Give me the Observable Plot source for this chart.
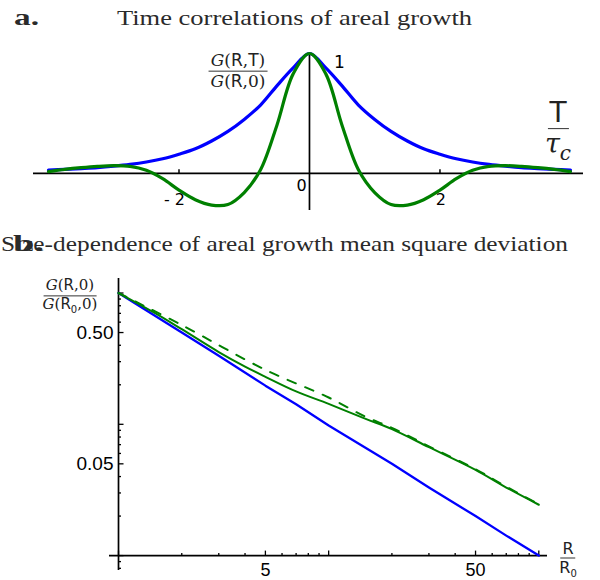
<!DOCTYPE html>
<html><head><meta charset="utf-8">
<script src="https://cdn.jsdelivr.net/npm/d3@7"></script>
<script src="https://cdn.jsdelivr.net/npm/@observablehq/plot@0.6"></script>
<style>
body{margin:0;background:#fff;}
#wrap{position:relative;width:600px;height:580px;overflow:hidden;background:#fff;}
#wrap svg{position:absolute;left:0;}
.abs{position:absolute;white-space:nowrap;}
.frac{display:flex;flex-direction:column;align-items:center;transform:translate(-50%,-50%);color:#222;line-height:1.05;}
.frac .num{border-bottom:1px solid #333;padding:0 2px 1px 2px;}
.frac .den{padding:1px 2px 0 2px;}
.cm{font-family:"DejaVu Serif",serif;}
.cmi{font-family:"DejaVu Serif",serif;font-style:italic;}
.ss{font-family:"DejaVu Sans",sans-serif;}
</style></head>
<body>
<div id="wrap"></div>
<script>
// ---------- Panel a: time correlations ----------
const tValues = [-4,-3.75,-3.5,-3.25,-3,-2.75,-2.5,-2.25,-2,-1.75,-1.5,-1.25,-1,-0.75,-0.5,-0.25,0,0.25,0.5,0.75,1,1.25,1.5,1.75,2,2.25,2.5,2.75,3,3.25,3.5,3.75,4];
const blueA = [0.027,0.033,0.040,0.048,0.060,0.075,0.095,0.122,0.16,0.205,0.27,0.35,0.45,0.57,0.73,0.88,1,0.88,0.73,0.57,0.45,0.35,0.27,0.205,0.16,0.122,0.095,0.075,0.060,0.048,0.040,0.033,0.027];
const greenA = [0.015,0.033,0.047,0.058,0.064,0.058,0.025,-0.045,-0.14,-0.22,-0.265,-0.26,-0.16,0.03,0.40,0.83,1,0.83,0.40,0.03,-0.16,-0.26,-0.265,-0.22,-0.14,-0.045,0.025,0.058,0.064,0.058,0.047,0.033,0.015];
const aTicks = [-4, -2, 2, 4];
const aLabelTicks = [-2, 2];
const aTickLabels = ["- 2", "2"];

// ---------- Panel b: size dependence (log-log) ----------
const rBlue = [1, 2, 3, 5, 7, 10, 20, 30, 50, 70, 100];
const blueB = [1, 0.5, 0.333, 0.197, 0.142, 0.098, 0.05, 0.033, 0.02, 0.0142, 0.01];
const rGreen = [1, 1.5, 2, 3, 4, 5, 7, 10, 15, 20, 30, 50, 70, 100];
const greenB = [1, 0.70, 0.53, 0.355, 0.275, 0.23, 0.178, 0.143, 0.11, 0.092, 0.067, 0.045, 0.033, 0.0244];
const rDash = [1, 2, 5, 10, 15, 20, 30, 50, 70, 100];
const dashB = [1, 0.57, 0.26, 0.16, 0.114, 0.094, 0.068, 0.0455, 0.0335, 0.0246];
const bxMajor = [1, 5, 10, 50, 100];
const bxMinor = [2, 3, 4, 6, 7, 8, 9, 20, 30, 40, 60, 70, 80, 90];
const byMajor = [0.01, 0.05, 0.1, 0.5, 1];
const byMinor = [0.008, 0.009, 0.02, 0.03, 0.04, 0.06, 0.07, 0.08, 0.09, 0.2, 0.3, 0.4, 0.6, 0.7, 0.8, 0.9];
const bxLabelVals = [5, 50];
const bxLabels = ["5", "50"];
const byLabelVals = [0.05, 0.5];
const byLabels = ["0.05", "0.50"];

const BLUE = "#0000ff", GREEN = "#008000";
const tickUp = {draw(ctx, size){const l = Math.sqrt(size/Math.PI); ctx.moveTo(0,0); ctx.lineTo(0,-l);}};
const tickRight = {draw(ctx, size){const l = Math.sqrt(size/Math.PI); ctx.moveTo(0,0); ctx.lineTo(l,0);}};

const dataA = tValues.map((t,i) => ({t, blue: blueA[i], green: greenA[i]}));
const plotA = Plot.plot({
  width: 600, height: 215,
  marginLeft: 33, marginRight: 17, marginTop: 53, marginBottom: 5,
  x: {domain: [-4.23, 4.2], axis: null},
  y: {domain: [-0.31, 1], axis: null},
  marks: [
    Plot.ruleY([0], {stroke: "#000", strokeWidth: 1.7}),
    Plot.ruleX([0], {stroke: "#000", strokeWidth: 1.7}),
    Plot.dot(aTicks, {x: d => d, y: 0, symbol: tickUp, r: 4, fill: "none", stroke: "#000", strokeWidth: 1.5}),
    Plot.line(dataA, {x: "t", y: "blue", stroke: BLUE, strokeWidth: 3.2, curve: "catmull-rom"}),
    Plot.line(dataA, {x: "t", y: "green", stroke: GREEN, strokeWidth: 3.2, curve: "catmull-rom"}),
    Plot.text(aLabelTicks, {x: d => d, y: 0, text: (d,i) => aTickLabels[i], textAnchor: "end", dx: 6, dy: 27, fontSize: 16, fontFamily: "DejaVu Sans", fill: "#000"}),
    Plot.text(["0"], {x: 0, y: 0, text: d => d, dx: -8, dy: 13, fontSize: 16, fontFamily: "DejaVu Sans", fill: "#000"}),
    Plot.text(["1"], {x: 0, y: 1, text: d => d, dx: 30, dy: 9, fontSize: 17, fontFamily: "DejaVu Sans", fill: "#000"})
  ]
});
plotA.style.top = "0px";

const plotB = Plot.plot({
  width: 600, height: 320,
  marginLeft: 109, marginRight: 53, marginTop: 18, marginBottom: 10,
  x: {type: "log", domain: [0.906, 110], axis: null},
  y: {type: "log", domain: [0.0077, 1.29], axis: null},
  marks: [
    Plot.ruleY([0.01], {stroke: "#000", strokeWidth: 1.7}),
    Plot.ruleX([1], {stroke: "#000", strokeWidth: 1.7}),
    Plot.dot(bxMajor, {x: d => d, y: 0.01, symbol: tickUp, r: 5, fill: "none", stroke: "#000", strokeWidth: 1.3}),
    Plot.dot(bxMinor, {x: d => d, y: 0.01, symbol: tickUp, r: 2.5, fill: "none", stroke: "#000", strokeWidth: 1.3}),
    Plot.dot(byMajor, {x: 1, y: d => d, symbol: tickRight, r: 5, fill: "none", stroke: "#000", strokeWidth: 1.3}),
    Plot.dot(byMinor, {x: 1, y: d => d, symbol: tickRight, r: 2.5, fill: "none", stroke: "#000", strokeWidth: 1.3}),
    Plot.line(rBlue.map((r,i) => ({r, v: blueB[i]})), {x: "r", y: "v", stroke: BLUE, strokeWidth: 2.3}),
    Plot.line(rDash.map((r,i) => ({r, v: dashB[i]})), {x: "r", y: "v", stroke: GREEN, strokeWidth: 2, strokeDasharray: "9,10", curve: "catmull-rom"}),
    Plot.line(rGreen.map((r,i) => ({r, v: greenB[i]})), {x: "r", y: "v", stroke: GREEN, strokeWidth: 2, curve: "catmull-rom"}),
    Plot.text(bxLabelVals, {x: d => d, y: 0.01, text: (d,i) => bxLabels[i], dy: 15, fontSize: 18, fontFamily: "Liberation Sans", fill: "#000"}),
    Plot.text(byLabelVals, {x: 1, y: d => d, text: (d,i) => byLabels[i], textAnchor: "end", dx: -5, fontSize: 19, fontFamily: "Liberation Sans", fill: "#000"})
  ]
});
plotB.style.top = "260px";

const wrap = document.getElementById("wrap");
wrap.appendChild(plotA);
wrap.appendChild(plotB);

// titles as SVG text (fitted widths)
const ns = "http://www.w3.org/2000/svg";
const tsvg = document.createElementNS(ns, "svg");
tsvg.setAttribute("width", 600); tsvg.setAttribute("height", 580);
tsvg.style.top = "0px"; tsvg.style.pointerEvents = "none";
function addText(str, x, y, size, weight, len){
  const t = document.createElementNS(ns, "text");
  t.setAttribute("x", x); t.setAttribute("y", y);
  t.setAttribute("font-family", "Liberation Serif, serif");
  t.setAttribute("font-size", size);
  t.setAttribute("font-weight", weight);
  t.setAttribute("fill", "#2a2a2a");
  if (len) { t.setAttribute("textLength", len); t.setAttribute("lengthAdjust", "spacingAndGlyphs"); }
  t.textContent = str;
  tsvg.appendChild(t);
}
addText("a.", 14, 25, 24, "bold", 25);
addText("Time correlations of areal growth", 117, 25, 21, "normal", 355);
addText("Size-dependence of areal growth mean square deviation", 1, 251, 21, "normal", 567);
addText("b.", 13, 251, 24, "bold", 31);
wrap.appendChild(tsvg);

// axis titles (fractions)
function frac(html1, html2, cx, cy, size){
  const d = document.createElement("div");
  d.className = "frac abs";
  d.style.left = cx + "px"; d.style.top = cy + "px"; d.style.fontSize = size + "px";
  d.innerHTML = `<div class="num">${html1}</div><div class="den">${html2}</div>`;
  wrap.appendChild(d);
  return d;
}
frac('<span class="cmi">G</span><span class="cm">(</span><span class="ss">R</span><span class="cm">,</span><span class="ss">T</span><span class="cm">)</span>',
     '<span class="cmi">G</span><span class="cm">(</span><span class="ss">R</span><span class="cm">,0)</span>', 238, 71, 17);
frac('<span class="ss" style="font-size:28px">T</span>',
     '<span class="cmi" style="font-size:27px">τ<sub style="font-size:20px">c</sub></span>', 558, 131, 27);
frac('<span class="cmi">G</span><span class="cm">(</span><span class="ss">R</span><span class="cm">,0)</span>',
     '<span class="cmi">G</span><span class="cm">(</span><span class="ss">R<sub style="font-size:10px">0</sub></span><span class="cm">,0)</span>', 70, 297, 15);
const rf = frac('<span class="ss">R</span>',
     '<span class="ss">R<sub style="font-size:10px;line-height:0">0</sub></span>', 568, 558, 16);
rf.style.lineHeight = "1";
</script>
</body></html>
